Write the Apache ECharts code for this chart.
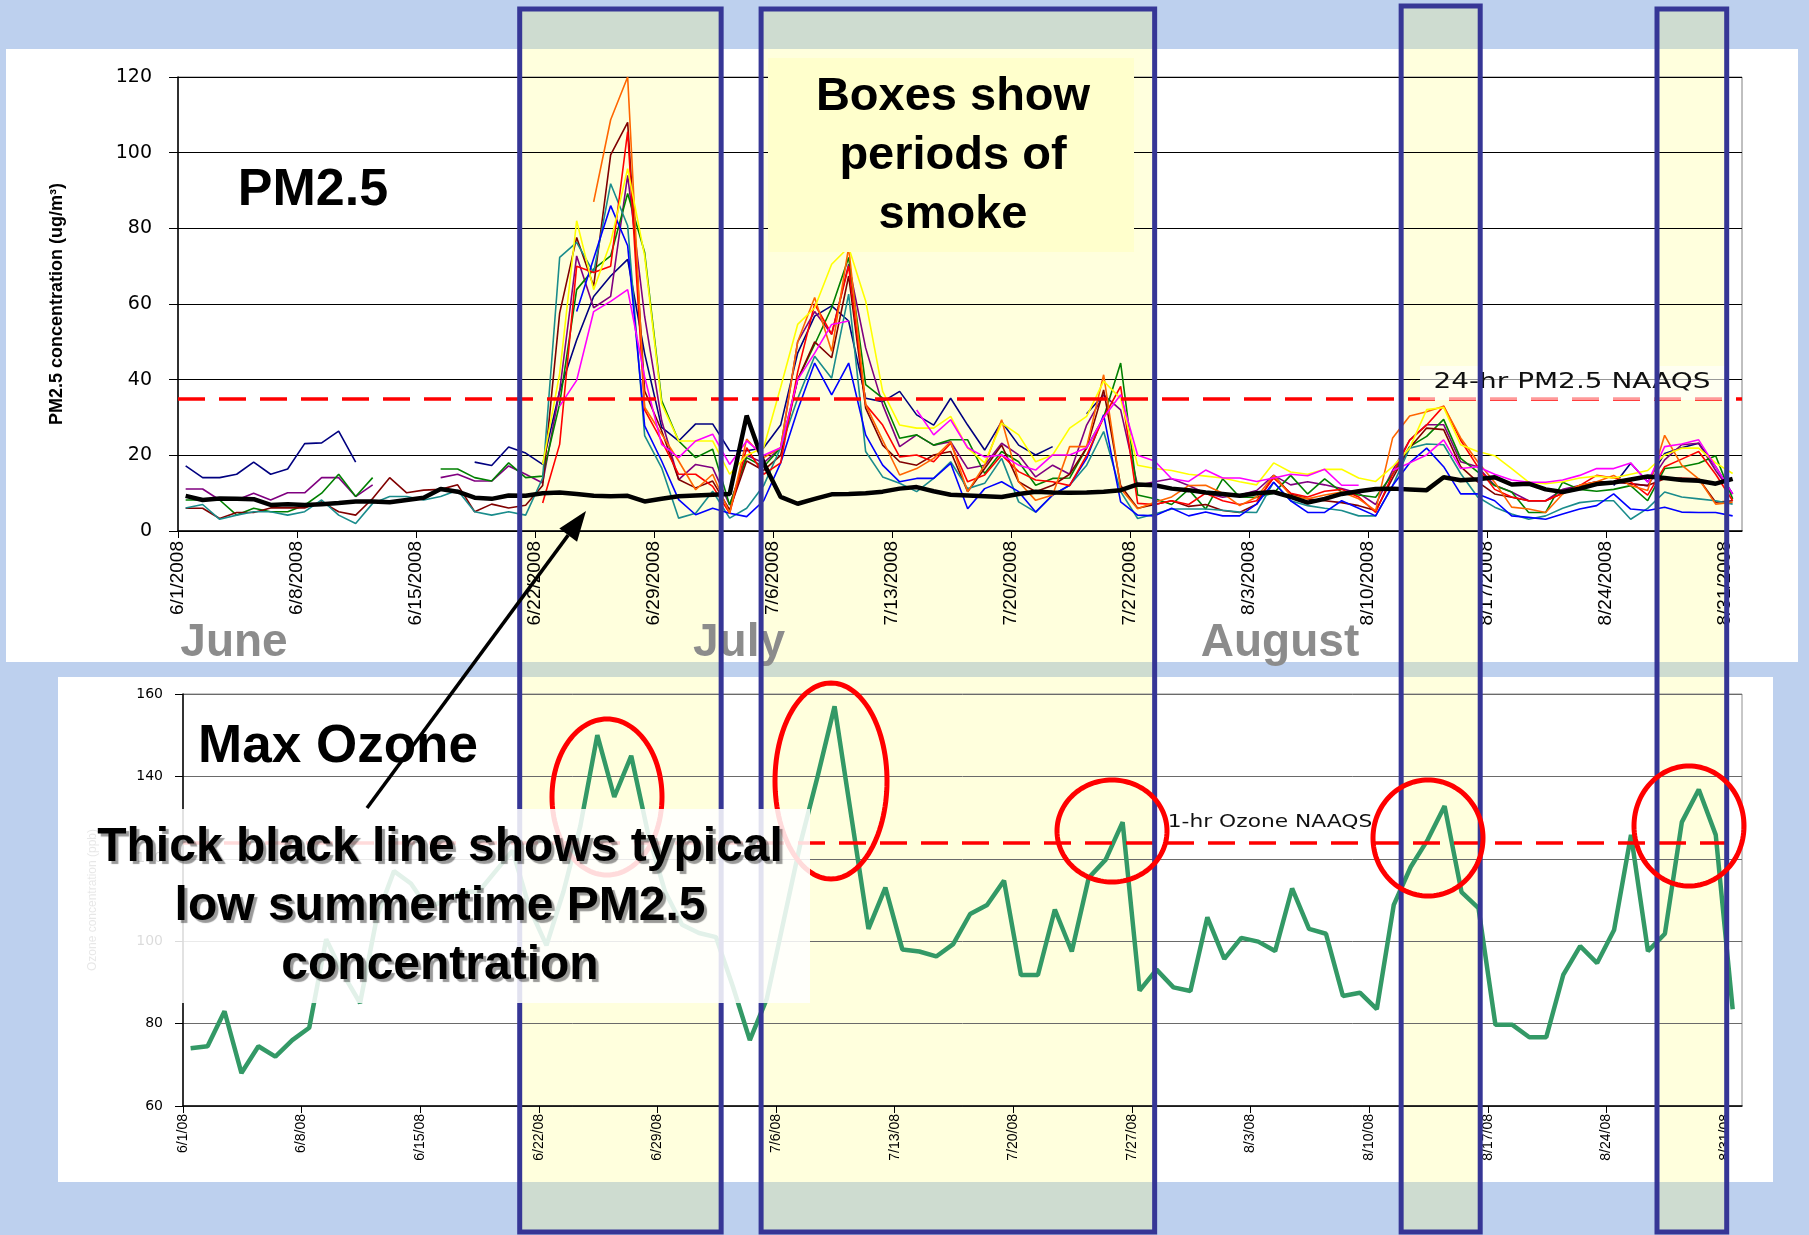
<!DOCTYPE html>
<html><head><meta charset="utf-8">
<script src="https://cdn.jsdelivr.net/npm/echarts@6/dist/echarts.min.js"></script>
<style>html,body{margin:0;padding:0;background:#bdd0ee;}#c{width:1809px;height:1235px;}</style>
</head><body><div id="c"></div>
<script>
// ---------- tick labels (one every 7 days, 6/1 .. 8/31/2008) ----------
const topTickLabels = ['6/1/2008','6/8/2008','6/15/2008','6/22/2008','6/29/2008','7/6/2008','7/13/2008','7/20/2008','7/27/2008','8/3/2008','8/10/2008','8/17/2008','8/24/2008','8/31/2008'];
const lowTickLabels = ['6/1/08','6/8/08','6/15/08','6/22/08','6/29/08','7/6/08','7/13/08','7/20/08','7/27/08','8/3/08','8/10/08','8/17/08','8/24/08','8/31/08'];
const N = null;
// ---------- daily PM2.5 (ug/m3), 6/1 .. 8/31 ----------
const pmTypical = [9.3,8.2,8.6,8.5,8.4,6.9,7.1,6.9,7.1,7.4,
 7.8,7.8,7.6,8.2,8.8,11.1,10.4,8.8,8.5,9.4,
 9.3,10.0,10.2,9.8,9.3,9.2,9.3,7.8,8.5,9.2,
 9.4,9.6,9.8,30.5,18,9.0,7.2,8.5,9.7,9.8,
 10.0,10.4,11.2,11.6,10.5,9.6,9.4,9.2,9.0,9.8,
 10.4,10.2,10.1,10.2,10.4,10.8,12.3,12.1,11.2,10.8,
 10.2,9.8,9.3,10.0,10.3,9.0,7.5,8.5,9.8,10.5,
 11.1,11.2,11.0,10.8,14.2,13.4,13.7,14.2,12.3,12.5,
 11.0,10.3,11.2,12.4,12.8,13.6,14.4,14.0,13.5,13.3,
 12.5,13.8];
const pmNavy = [17.2,14.1,14.1,15,18.2,15,16.4,23.1,23.3,26.4,
 18.2,N,N,N,N,N,N,18.2,17.3,22.2,
 20.6,17.6,37,50.5,62,67.4,71.8,46.9,27.4,23.8,
 28.3,28.3,21.2,21.2,22,28,47,56.8,59.5,55.5,
 35.1,34.2,36.9,30.7,28,35.1,28,21.4,28.9,22.7,
 20.1,22.3,N,31,36,N,N,N,N,N,
 N,N,N,N,N,N,N,N,N,N,
 N,N,N,N,N,N,N,N,N,N,
 N,N,N,N,12,17.9,13,20.5,22,23.2,
 17,9.8];
const pmPurple = [11.1,11.1,8.2,8.2,10,8.2,10.1,10.1,14.1,14.1,
 9.1,12.2,N,N,N,14.1,15,13.2,13.2,17.2,
 15,12.7,37,72.7,59,62,94,56.7,29.2,13.6,
 17.6,16.7,6.9,20,18,22,50,58,52,70.5,
 48.4,33.4,22.3,25.4,22.7,23.6,16.5,17.4,23.2,20.1,
 14.3,17.4,15,28,36,32,12,13,13.8,12,
 10,8.9,9.5,10.7,14.7,12.2,13,12.2,11.2,10,
 7,16,24,28.1,28.1,18.3,17,12.1,10.3,8,
 8,11,12,13,13,12.5,12,18.8,22.8,23.2,
 16,9.8];
const pmGreen = [8.2,8.2,8.2,4.2,6,5.1,5.1,6.8,10,15,
 9.1,14.1,N,N,N,16.4,16.4,14.1,13.2,18,
 14.1,14.5,33.6,63.8,69.2,72.7,89.2,73.6,34.5,23.8,
 19.4,21.6,6.9,19.4,17,22,40,49.3,59,72.3,
 38.7,35.1,24.5,25.4,22.7,24.1,24.1,15.2,21,18.3,
 12.1,13.9,14,22,30,44.4,9.5,8.5,7,11,
 5.8,13.8,9,8.9,10,14.7,9.8,13.8,10.3,9.5,
 8.9,15,22.3,25,29.5,19.2,15.6,12,10.3,4.9,
 4.9,12.9,11,10.5,11,12,8,16.5,17,17.9,
 19.9,8.5];
const pmMaroon = [6,6,3.3,4.9,4.9,6.1,6.1,6.1,7.7,5.1,
 4.2,8.6,14.1,10.1,10.8,11,12.2,5.1,7.1,6.1,
 6.8,12,57.6,77.6,64.7,99.4,108,37,26.5,13.6,
 11.4,13.2,5.6,18.5,16,20,40,50,45.8,67.4,
 32.5,22.7,18.3,17.4,20.1,21,10.4,16.5,22.7,13,
 10.4,12.1,15,22,37.3,12,6,7,8,6.5,
 7,5.4,4.9,7.1,14.7,9.8,8.5,8,7.5,6.7,
 5.4,14,22,27.2,26.8,17,13,9.8,8.9,8,
 8,10,12,13,13,12.5,12,13.8,14,13.8,
 7.6,8];
const pmTeal = [6.1,7,3.1,4.2,5.1,5.1,4.2,5.1,8.2,4.2,
 2,7.3,9.1,9.1,8.2,9.1,10.8,5.1,4.2,5.1,
 4.2,14,72.3,76.3,68.3,91.8,80.7,25.2,16.7,3.4,
 4.7,10.5,3.4,6,12,22,35,46.2,40.4,62.6,
 21,14.3,12.6,10.4,13.9,18.3,11.2,12.6,19.2,7.7,
 5,9.5,12.1,17.4,26.3,10.4,3.3,4.5,5.8,5.8,
 5.8,5.5,5,4.9,12.9,8,6.7,6,5.4,4,
 4,12,21.9,23,22.8,15.2,9,6.3,4.5,3.1,
 4,6,7.5,8,8,3.1,6,10.3,9,8.5,
 8,7.1];
const pmBlue = [N,N,N,N,N,N,N,N,N,N,
 N,N,N,N,N,N,N,N,N,N,
 N,N,N,58,72,86,75.4,27.8,18.5,8.3,
 4.3,6,4.7,3.8,8,18,32,44.4,36,44.4,
 25.4,17.4,13,13.9,13.9,17.9,5.9,11.2,13,10.4,
 5,9.5,12.1,19.2,30.7,7.7,4.2,4,6,4,
 5,4,4,7.1,12.9,8,4.9,4.9,8,6,
 4,12,18,21.9,17,9.8,9.8,8,4,3.6,
 3.1,4.5,5.8,6.7,9.8,5.8,5.4,6.3,5,4.9,
 4.9,4];
const pmRed = [N,N,N,N,N,N,N,N,N,N,
 N,N,N,N,N,N,N,N,N,N,
 N,7.4,22.9,70,68.3,70,105.6,32,23.8,15,
 15,11.8,4.7,22,15,18,42,60,52,70,
 33.4,28,19.6,20.1,18.3,23.2,13,14.8,20.1,15.7,
 13.5,13,12,20,30,38.2,7.3,7,8,7,
 10,8,7,8,14,10,9,10.5,11,9,
 4.9,15,24,28,33,24,17,11,9,8,
 8,10,12,14.7,14,13,9.5,17,19,21,
 15,8];
const pmOrange = [N,N,N,N,N,N,N,N,N,N,
 N,N,N,N,N,N,N,N,N,N,
 N,N,N,N,87,108.7,120,32.7,25.6,18.5,
 10.9,15,4.7,24.3,19.4,22,50,61.7,47.5,75,
 33.4,24,14.8,16.5,19.2,23.6,10.4,17.4,29.4,13,
 8.1,9.5,22.3,22.3,41.3,11.2,5.9,7.6,9,12,
 12.1,10,6.7,9,14.7,9.4,8.5,9.5,10.3,8.5,
 5.4,24.6,30.4,31.5,33,24.6,18.3,12.9,6.3,5.8,
 4.9,9.8,12.1,13,14.7,12,10.7,25.3,17.4,13.8,
 7.1,7.6];
const pmYellow = [N,N,N,N,N,N,N,N,N,N,
 N,N,N,N,N,N,N,N,N,N,
 N,17.6,41.6,82,63.8,76.3,95.8,72.7,33.6,23.8,
 23.8,23.8,15,20,22,38,54.6,59,70.5,75,
 60.8,36.9,28,27.2,27.2,30.3,21.9,18,28.5,25.4,
 18.3,20.1,27.2,30.3,39.6,35,17.4,16.5,16,15,
 14.5,14,13,12.2,18,15.6,15,16.3,16.3,14,
 13.1,17,21.9,32.1,32.6,22.8,21,19.9,16.5,12.9,
 12.5,13,14,14.5,14,15,16,20.1,21.9,21.9,
 18,15.2];
const pmMagenta = [N,N,N,N,N,N,N,N,N,N,
 N,N,N,N,N,N,N,N,N,N,
 N,N,33,39.8,58,60.7,63.8,40.7,22.9,19.4,
 23.8,25.6,17.6,23.8,20,22,40,47,54.6,55.5,
 N,N,N,32,25.4,29.4,22,19.6,20.1,17.4,
 16.1,20.1,20.1,22,30,36,20,18.5,13.8,13.1,
 16.1,14,14,13.1,14,15,14.6,16.3,12.1,12.1,
 N,16,18,20.1,24.1,16.5,17,15,13.5,12.9,
 12.9,13.5,14.7,16.5,16.5,18,12.9,22.3,23,24.1,
 17,9.8];
// ---------- daily max ozone (ppb) ----------
const ozoneMax = [74,74.5,83,68,74.5,72,76,79,100.5,92,
 85,106,117,114,108,110,112,112,117,122,
 108,99,112,128,150,135,145,126,112,104,
 102,101,89,76,86,105,124,140,157,130,
 103,113,98,97.5,96.3,99.3,106.6,108.8,114.7,91.8,
 91.8,107.7,97.5,115.4,119.8,128.9,88,93.1,88.8,87.9,
 105.8,95.7,100.8,99.9,97.6,112.8,103,101.8,86.7,87.5,
 83.5,108.8,118,124.6,132.8,111.9,108,79.7,79.7,76.7,
 76.7,91.8,98.8,94.7,102.7,125.8,97.6,101.8,128.9,136.8,
 125.8,83.5];
const pmStandard = 35;     // 24-hr PM2.5 NAAQS
const ozoneStandard = 124; // 1-hr ozone NAAQS
// smoke periods, in days after 6/1
const smokePeriods = [[20.1,31.95],[34.3,57.45],[71.95,76.6],[87.0,91.1]];

const siteSeries = [
  ['#000080', pmNavy], ['#800080', pmPurple], ['#008000', pmGreen], ['#800000', pmMaroon],
  ['#1a8c8c', pmTeal], ['#0000ff', pmBlue], ['#ff0000', pmRed], ['#ff6600', pmOrange],
  ['#ffff00', pmYellow], ['#ff00ff', pmMagenta]
];
const pts = arr => arr.map((v, i) => [i + 0.45, v == null ? '-' : v]);
const fmt = labels => v => (v % 7 === 0 && v / 7 < labels.length) ? labels[v / 7] : '';

const series = siteSeries.map(([c, d]) => ({
  type: 'line', xAxisIndex: 0, yAxisIndex: 0, data: pts(d), showSymbol: false, symbol: 'none',
  lineStyle: { color: c, width: 1.6 }, itemStyle: { color: c }, z: 2, silent: true, connectNulls: false
}));
series.push({
  type: 'line', xAxisIndex: 0, yAxisIndex: 0, data: pts(pmTypical), showSymbol: false, symbol: 'none',
  lineStyle: { color: '#000', width: 4.5 }, z: 3, silent: true,
  markLine: { silent: true, symbol: ['none', 'none'], label: { show: false },
    lineStyle: { color: '#ff0000', width: 3.5, type: [27, 14] }, data: [{ yAxis: pmStandard }] }
});
series.push({
  type: 'line', xAxisIndex: 1, yAxisIndex: 1, data: pts(ozoneMax), showSymbol: false, symbol: 'none',
  lineStyle: { color: '#339966', width: 4.5 }, z: 3, silent: true,
  markLine: { silent: true, symbol: ['none', 'none'], label: { show: false },
    lineStyle: { color: '#ff0000', width: 3.5, type: [27, 14] }, data: [{ yAxis: ozoneStandard }] }
});

const xAxisBase = (gi, labels, fs, margin) => ({
  gridIndex: gi, type: 'value', min: 0, max: 92, interval: 7,
  axisLine: { show: true, onZero: false, lineStyle: { color: '#000', width: 1.5 } },
  axisTick: { show: true, length: 7, lineStyle: { color: '#000' } },
  splitLine: { show: false },
  axisLabel: { rotate: 90, margin: margin, showMaxLabel: false, showMinLabel: true,
    fontFamily: '"Liberation Sans", Arial, sans-serif', fontSize: fs, color: '#000', formatter: fmt(labels) }
});

const option = {
  animation: false,
  backgroundColor: '#bdd0ee',
  grid: [
    { left: 178, top: 77, width: 1564, height: 454, show: true, borderColor: '#808080', borderWidth: 1, containLabel: false, outerBoundsMode: 'none' },
    { left: 183, top: 694, width: 1559, height: 412, show: true, borderColor: '#909090', borderWidth: 1, containLabel: false, outerBoundsMode: 'none' }
  ],
  xAxis: [ xAxisBase(0, topTickLabels, 19, 10), xAxisBase(1, lowTickLabels, 14, 8) ],
  yAxis: [
    { gridIndex: 0, type: 'value', min: 0, max: 120, interval: 20,
      axisLine: { show: true, lineStyle: { color: '#000', width: 1.5 } },
      axisTick: { show: true, length: 9, lineStyle: { color: '#000' } },
      splitLine: { show: true, lineStyle: { color: '#000', width: 1 } },
      axisLabel: { margin: 26, fontFamily: '"DejaVu Sans", Verdana, sans-serif', fontSize: 19, color: '#000' },
      name: 'PM2.5 concentration (ug/m³)', nameLocation: 'middle', nameGap: 112, nameRotate: 90,
      nameTextStyle: { fontFamily: '"Liberation Sans", Arial, sans-serif', fontWeight: 'bold', fontSize: 18, color: '#000' } },
    { gridIndex: 1, type: 'value', min: 60, max: 160, interval: 20,
      axisLine: { show: true, lineStyle: { color: '#000', width: 1.5 } },
      axisTick: { show: true, length: 8, lineStyle: { color: '#000' } },
      splitLine: { show: true, lineStyle: { color: '#6a6a6a', width: 1 } },
      axisLabel: { margin: 20, fontFamily: '"DejaVu Sans", Verdana, sans-serif', fontSize: 14, color: '#000' },
      name: 'Ozone concentration (ppb)', nameLocation: 'middle', nameGap: 84, nameRotate: 90,
      nameTextStyle: { fontFamily: '"Liberation Sans", Arial, sans-serif', fontSize: 12, color: '#555' } }
  ],
  series: series
};

const chart = echarts.init(document.getElementById('c'), null, { renderer: 'canvas', width: 1809, height: 1235 });
chart.setOption(option);

// ---------- annotations ----------
const gx = d => chart.convertToPixel({ xAxisIndex: 0 }, d);
const els = [];
const F = (w, s) => w + ' ' + s + 'px "Liberation Sans", Arial, sans-serif';
function txt(text, x, y, font, fill, z, extra, sx) {
  return { type: 'text', x: x, y: y, z: z, silent: true, scaleX: sx || 1,
    style: Object.assign({ text: text, font: font, fill: fill, align: 'center', verticalAlign: 'middle',
      textAlign: 'center', textVerticalAlign: 'middle' }, extra || {}) };
}
// white panels
els.push({ type: 'rect', z: -10, silent: true, shape: { x: 6, y: 49, width: 1792, height: 613 }, style: { fill: '#ffffff' } });
els.push({ type: 'rect', z: -10, silent: true, shape: { x: 58, y: 677, width: 1715, height: 505 }, style: { fill: '#ffffff' } });
// smoke boxes
smokePeriods.forEach(([a, b], i) => {
  const x1 = gx(a), x2 = gx(b);
  const top = i === 2 ? 6 : 9;
  els.push({ type: 'rect', z: -5, silent: true, shape: { x: x1, y: top, width: x2 - x1, height: 1232 - top },
    style: { fill: 'rgba(255,255,125,0.26)' } });
  els.push({ type: 'rect', z: 100, silent: true, shape: { x: x1, y: top, width: x2 - x1, height: 1232 - top },
    style: { fill: 'none', stroke: '#363696', lineWidth: 5 } });
});
// big labels
els.push(txt('PM2.5', 313, 191, F('bold', 52), '#000', 60));
els.push(txt('Max Ozone', 338, 747, F('bold', 53), '#000', 60));
els.push(txt('June', 234, 643, F('bold', 46), '#8c8c8c', 50));
els.push(txt('July', 739, 643, F('bold', 46), '#8c8c8c', 50));
els.push(txt('August', 1280, 643, F('bold', 46), '#8c8c8c', 50));
// smoke explanation
els.push({ type: 'rect', z: 150, silent: true, shape: { x: 768, y: 58, width: 366, height: 194 }, style: { fill: '#ffffcc' } });
['Boxes show', 'periods of', 'smoke'].forEach((t, i) => els.push(txt(t, 953, 97 + i * 59, F('bold', 47), '#000', 160)));
// NAAQS labels
els.push({ type: 'rect', z: 60, silent: true, shape: { x: 1420, y: 366, width: 305, height: 34 }, style: { fill: 'rgba(255,255,255,0.6)' } });
els.push(txt('24-hr PM2.5 NAAQS', 1572, 383, '21px "DejaVu Sans", Verdana, sans-serif', '#111', 65, null, 1.33));
els.push(txt('1-hr Ozone NAAQS', 1270, 823, '17px "DejaVu Sans", Verdana, sans-serif', '#111', 65, null, 1.28));
// red ellipses
const ellipses = [[607, 797, 55, 78], [831, 781, 56, 98], [1112, 831, 55, 51], [1428, 838, 55, 58], [1689, 826, 55, 60]];
ellipses.forEach(([cx, cy, rx, ry]) => {
  const p = [];
  for (let k = 0; k < 120; k++) { const t = k / 120 * 2 * Math.PI; p.push([cx + rx * Math.cos(t), cy + ry * Math.sin(t)]); }
  els.push({ type: 'polygon', z: 120, silent: true, shape: { points: p }, style: { fill: 'none', stroke: '#ff0000', lineWidth: 5 } });
});
// arrow
(function () {
  const x0 = 367, y0 = 808, x1 = 586, y1 = 511;
  const L = Math.hypot(x1 - x0, y1 - y0), ux = (x1 - x0) / L, uy = (y1 - y0) / L;
  const bx = x1 - 30 * ux, by = y1 - 30 * uy, nx = -uy, ny = ux;
  els.push({ type: 'line', z: 130, silent: true, shape: { x1: x0, y1: y0, x2: bx, y2: by }, style: { stroke: '#000', lineWidth: 3.5 } });
  els.push({ type: 'polygon', z: 130, silent: true, shape: { points: [[x1, y1], [bx + 11 * nx, by + 11 * ny], [bx - 11 * nx, by - 11 * ny]] }, style: { fill: '#000' } });
})();
// semi-transparent caption box
els.push({ type: 'rect', z: 200, silent: true, shape: { x: 80, y: 809, width: 730, height: 194 }, style: { fill: 'rgba(255,255,255,0.86)' } });
const shadow = { textShadowColor: 'rgba(0,0,0,0.4)', textShadowBlur: 1, textShadowOffsetX: 3, textShadowOffsetY: 3 };
['Thick black line shows typical', 'low summertime PM2.5', 'concentration'].forEach((t, i) =>
  els.push(txt(t, 440, 848 + i * 59, F('bold', 48), '#000', 210, shadow)));

chart.setOption({ graphic: { elements: els } });
</script>
</body></html>
